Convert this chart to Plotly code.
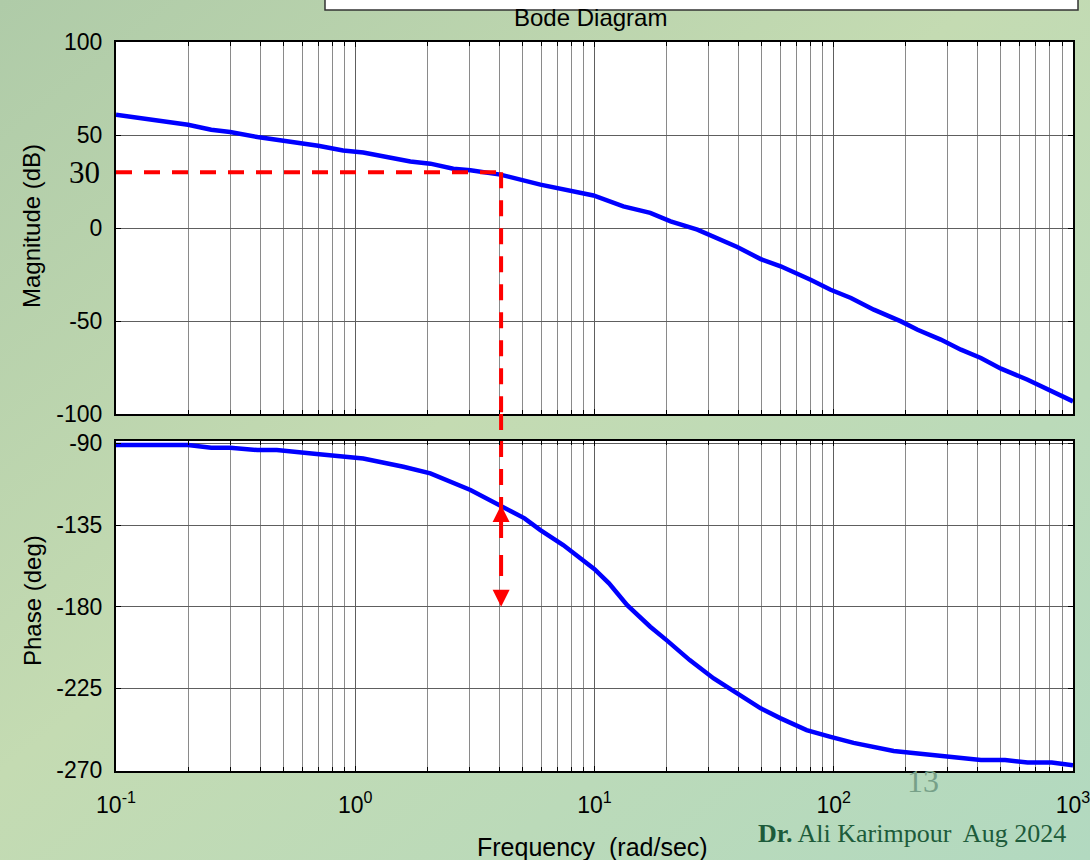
import base64
import plotly.graph_objects as go

# ---------------- data ----------------
mag_freq = [0.1, 0.2, 0.25, 0.3, 0.39, 0.47, 0.6, 0.7, 0.89, 1.08, 1.7, 2.06, 2.57,
            3.03, 4.04, 5.94, 9.9, 13.2, 17.1, 20.8, 26.9, 33.7, 39.5, 49.5, 60, 80,
            97, 118, 147, 191, 224, 280, 340, 412, 500, 646, 784, 1000]
mag_db = [60.9, 55.5, 52.8, 51.6, 48.9, 47.5, 45.3, 44.2, 41.7, 40.6, 35.8, 34.6, 31.9,
          31.0, 28.7, 23.3, 17.5, 11.6, 8.1, 3.6, -0.9, -6.3, -10.2, -16.7, -20.6, -27.8,
          -33.2, -37.6, -43.9, -50.2, -54.7, -60.0, -65.4, -69.9, -75.6, -81.6, -87.0, -93.2]

phase_freq = [0.1, 0.2, 0.25, 0.3, 0.39, 0.47, 0.69, 1.08, 1.59, 2.06, 3.03, 4.04, 5.1,
              5.94, 7.4, 10, 11.5, 13.7, 17.1, 20, 25, 31.5, 39.5, 49.5, 60, 77, 97, 121,
              178, 300, 412, 520, 646, 815, 1000]
phase_deg = [-90.9, -90.9, -92.4, -92.4, -93.7, -93.7, -95.9, -98.3, -102.9, -106.5,
             -115.7, -124.0, -131.3, -137.8, -146.0, -159.3, -167.1, -179.1, -191.0,
             -198.4, -209.4, -219.5, -227.7, -236.0, -241.5, -248.0, -251.7, -255.0,
             -259.5, -262.7, -264.5, -264.5, -265.8, -265.8, -267.3]

# red construction lines
cross_freq = 4.07      # rad/sec where |G| = 30 dB
cross_db = 30
cross_phase = -124
ref_phase = -180

# ticks
freq_ticks = [0.1, 1, 10, 100, 1000]
freq_tick_text = ["10<sup>-1</sup>", "10<sup>0</sup>", "10<sup>1</sup>",
                  "10<sup>2</sup>", "10<sup>3</sup>"]
mag_ticks = [-100, -50, 0, 50, 100]
phase_ticks = [-270, -225, -180, -135, -90]
minor_freqs = [k * 10.0 ** e for e in range(-1, 3) for k in range(2, 10)]

mag_range = [-100, 100]
phase_range = [-270.5, -88.7]

# ---------------- layout geometry ----------------
W, H = 1090, 860
def px(x):
    return x / W
def py(y):
    return 1 - y / H

x_dom = [px(116), px(1073)]
top_dom = [py(414), py(42)]
bot_dom = [py(771), py(441)]

SANS = "Liberation Sans, Arial, sans-serif"
SERIF = "Liberation Serif, Times New Roman, serif"
BLUE = "#0000ff"
RED = "#ff0000"

fig = go.Figure()

fig.add_trace(go.Scatter(x=mag_freq, y=mag_db, mode="lines", xaxis="x", yaxis="y",
                         line=dict(color=BLUE, width=4.5), showlegend=False))
fig.add_trace(go.Scatter(x=phase_freq, y=phase_deg, mode="lines", xaxis="x2", yaxis="y2",
                         line=dict(color=BLUE, width=4.5), showlegend=False))

# red dashed construction lines
fig.add_trace(go.Scatter(x=[mag_freq[0], cross_freq], y=[cross_db, cross_db], mode="lines",
                         xaxis="x", yaxis="y", line=dict(color=RED, width=4, dash="16px,12px"),
                         showlegend=False))
fig.add_trace(go.Scatter(x=[cross_freq, cross_freq], y=[cross_db, mag_range[0]], mode="lines",
                         xaxis="x", yaxis="y", line=dict(color=RED, width=4, dash="16px,12px"),
                         showlegend=False))
fig.add_trace(go.Scatter(x=[cross_freq, cross_freq], y=[phase_range[1], cross_phase], mode="lines",
                         xaxis="x2", yaxis="y2", line=dict(color=RED, width=4, dash="16px,12px"),
                         showlegend=False))
fig.add_trace(go.Scatter(x=[cross_freq, cross_freq], y=[cross_phase, ref_phase], mode="lines",
                         xaxis="x2", yaxis="y2",
                         line=dict(color=RED, width=4, dash="33px,17px,21px,40px"),
                         showlegend=False))
fig.add_trace(go.Scatter(x=[cross_freq, cross_freq], y=[cross_phase, ref_phase], mode="markers",
                         xaxis="x2", yaxis="y2",
                         marker=dict(symbol=["arrow-up", "arrow-down"], size=17, color=RED,
                                     line=dict(width=0)),
                         showlegend=False))

grid_major = "#5e5e5e"
grid_minor = "#8a8a8a"

def xaxis(anchor, show_labels):
    return dict(
        type="log", range=[-1, 3], domain=x_dom, anchor=anchor,
        tickmode="array", tickvals=freq_ticks, ticktext=freq_tick_text,
        showticklabels=show_labels, ticks="inside", ticklen=5, tickwidth=1,
        tickcolor="black", showgrid=True, gridcolor=grid_major, gridwidth=1,
        minor=dict(tickmode="array", tickvals=minor_freqs, ticks="inside", ticklen=4,
                   tickcolor="black", showgrid=True, gridcolor=grid_minor, gridwidth=1),
        showline=True, linecolor="black", linewidth=2, mirror="allticks",
        zeroline=False, automargin=False, ticklabeloverflow="allow",
        tickfont=dict(family=SANS, size=23, color="black"), ticklabelstandoff=12,
    )

def yaxis(dom, rng, ticks, anchor):
    return dict(
        domain=dom, range=rng, anchor=anchor, tickmode="array", tickvals=ticks,
        ticktext=[str(t) for t in ticks],
        ticks="inside", ticklen=5, tickcolor="black", showgrid=True,
        gridcolor=grid_major, gridwidth=1, showline=True, linecolor="black",
        linewidth=2, mirror="allticks", zeroline=False, automargin=False,
        tickfont=dict(family=SANS, size=23, color="black"), ticklabelstandoff=7,
    )

svg = ('<svg xmlns="http://www.w3.org/2000/svg" width="1090" height="860">'
       '<defs><linearGradient id="g" x1="0" y1="0" x2="1" y2="1">'
       '<stop offset="0" stop-color="#afcba8"/><stop offset="0.45" stop-color="#c4dbb2"/>'
       '<stop offset="1" stop-color="#b2d9c0"/></linearGradient></defs>'
       '<rect width="1090" height="860" fill="url(#g)"/></svg>')
bg_src = "data:image/svg+xml;base64," + base64.b64encode(svg.encode()).decode()

white_panels = [
    dict(type="rect", xref=xr + " domain", yref=yr + " domain", x0=0, x1=1, y0=0, y1=1,
         fillcolor="white", line=dict(width=0), layer="below")
    for xr, yr in (("x", "y"), ("x2", "y2"))
]

fig.update_layout(
    width=W, height=H, margin=dict(l=0, r=0, t=0, b=0),
    paper_bgcolor="#bdd7b3", plot_bgcolor="white", template="none",
    showlegend=False,
    xaxis=xaxis("y", False), yaxis=yaxis(top_dom, mag_range, mag_ticks, "x"),
    xaxis2=xaxis("y2", True), yaxis2=yaxis(bot_dom, phase_range, phase_ticks, "x2"),
    images=[dict(source=bg_src, xref="paper", yref="paper", x=0, y=1, sizex=1, sizey=1,
                 sizing="stretch", layer="below", xanchor="left", yanchor="top")],
    shapes=white_panels + [
        dict(type="rect", xref="paper", yref="paper", x0=px(325), x1=px(1078),
             y0=py(10), y1=py(-5), fillcolor="white", line=dict(color="#333333", width=1.5),
             layer="above"),
        dict(type="line", xref="x", yref="paper", x0=cross_freq, x1=cross_freq,
             y0=top_dom[0], y1=bot_dom[1], line=dict(color=RED, width=4, dash="16px,12px"),
             layer="above"),
    ],
    annotations=[
        dict(text="Bode Diagram", xref="paper", yref="paper", x=px(590), y=py(18),
             xanchor="center", yanchor="middle", showarrow=False,
             font=dict(family=SANS, size=24, color="black")),
        dict(text="Magnitude (dB)", xref="paper", yref="paper", x=px(32), y=py(226),
             xanchor="center", yanchor="middle", textangle=-90, showarrow=False,
             font=dict(family=SANS, size=24, color="black")),
        dict(text="Phase (deg)", xref="paper", yref="paper", x=px(32), y=py(601),
             xanchor="center", yanchor="middle", textangle=-90, showarrow=False,
             font=dict(family=SANS, size=24, color="black")),
        dict(text="Frequency  (rad/sec)", xref="paper", yref="paper", x=px(592), y=py(847),
             xanchor="center", yanchor="middle", showarrow=False,
             font=dict(family=SANS, size=25, color="black")),
        dict(text=str(cross_db), xref="paper", yref="y", x=px(102), y=cross_db,
             xanchor="right", yanchor="middle", showarrow=False,
             font=dict(family="Liberation Serif, serif", size=31, color="black")),
        dict(text="13", xref="paper", yref="paper", x=px(923), y=py(781),
             xanchor="center", yanchor="middle", showarrow=False,
             font=dict(family=SERIF, size=32, color="#77a088")),
        dict(text="<b>Dr.</b> Ali Karimpour  Aug 2024", xref="paper", yref="paper",
             x=px(1068), y=py(833), xanchor="right", yanchor="middle", showarrow=False,
             font=dict(family=SERIF, size=26, color="#1d5b3a")),
    ],
)

fig.write_html("out.html", config={"displayModeBar": False},
               post_script="document.body.style.margin='0px';")
